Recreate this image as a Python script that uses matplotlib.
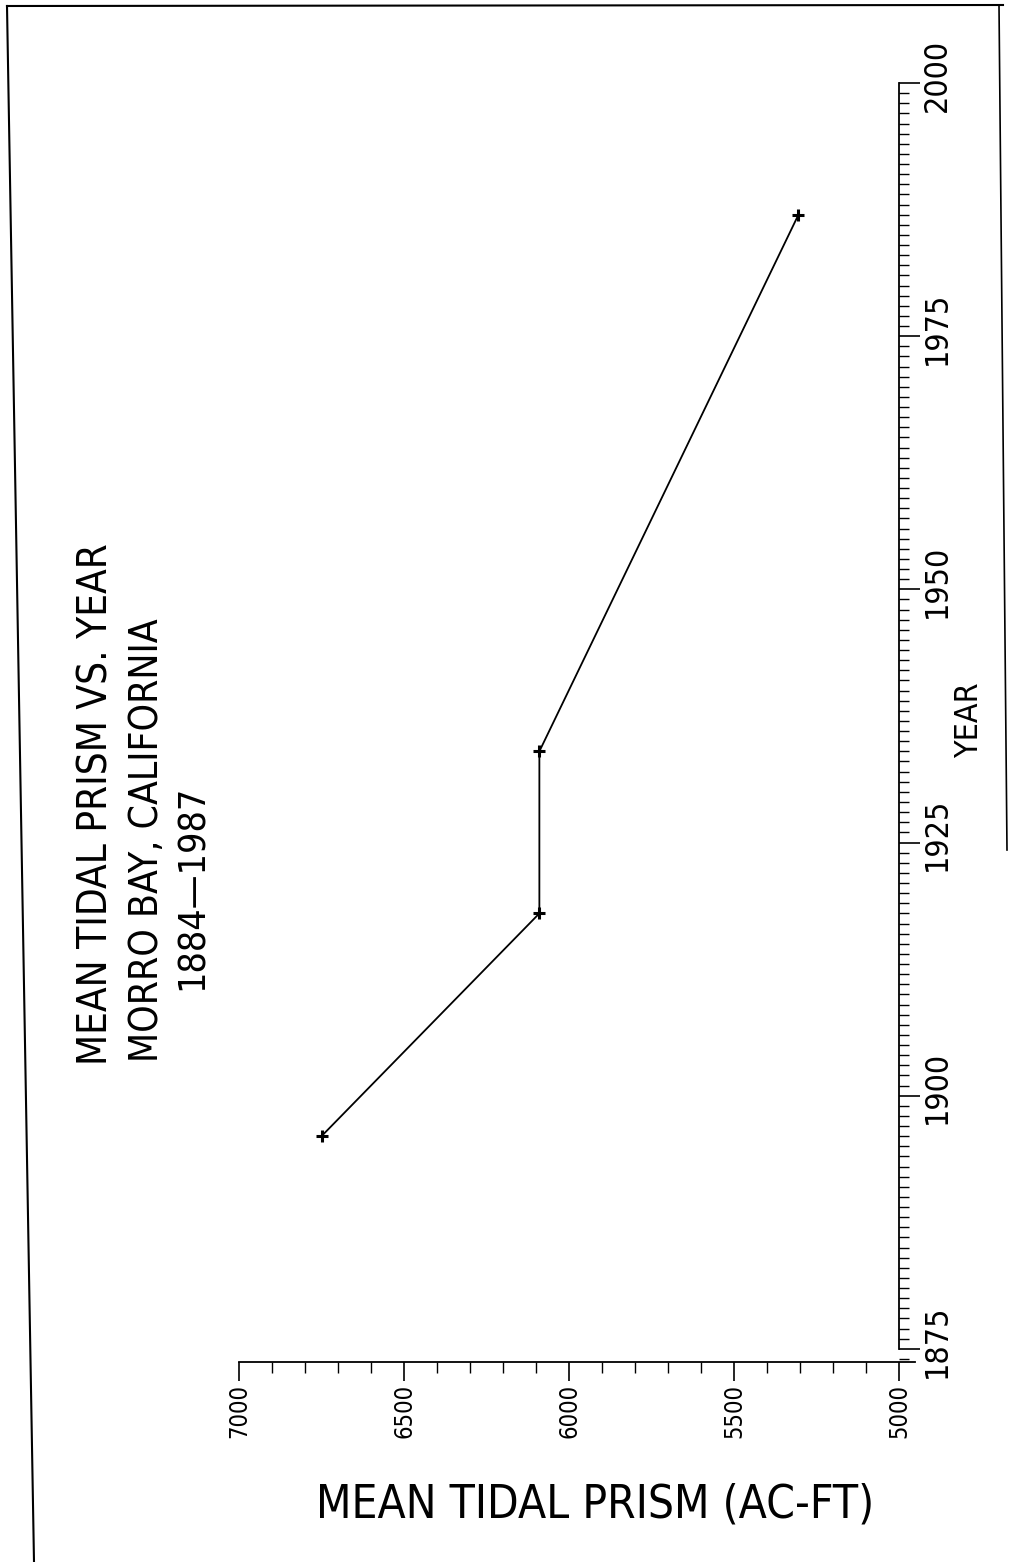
import matplotlib
matplotlib.use('Agg')
import matplotlib.pyplot as plt
import matplotlib.transforms as mtransforms
from matplotlib.ticker import MultipleLocator, FixedLocator
from matplotlib.lines import Line2D

# ---- data ----
years = [1896, 1918, 1934, 1987]
prism = [6750, 6090, 6090, 5305]
year_ticks = [1875, 1900, 1925, 1950, 1975, 2000]
prism_ticks = [5000, 5500, 6000, 6500, 7000]
title_lines = ["MEAN TIDAL PRISM VS. YEAR", "MORRO BAY, CALIFORNIA", "1884\u20141987"]
x_label = "YEAR"
y_label = "MEAN TIDAL PRISM (AC-FT)"

FONT = ['DejaVu Sans']
plt.rcParams['font.family'] = FONT
plt.rcParams['font.stretch'] = 'condensed'

W, H = 1011, 1562
fig = plt.figure(figsize=(W / 100, H / 100), dpi=100)


def fx(px):
    return px / W


def fy(py):
    return 1 - py / H


# axes: horizontal = prism (7000 left -> 5000 right), vertical = year
ax = fig.add_axes([fx(239), fy(1362), fx(915) - fx(239), fy(83) - fy(1362)])
ax.plot(prism, years, color='black', lw=1.3, marker='+', ms=8, mew=2.2)
ax.set_xlim(7000, 4952)
ax.set_ylim(1873.7, 2000)

for s in ['left', 'top']:
    ax.spines[s].set_visible(False)
ax.spines['right'].set_position(('data', 5000))
ax.spines['right'].set_bounds(1875, 2000)
ax.spines['right'].set_linewidth(1.3)
ax.spines['bottom'].set_linewidth(1.3)

# year axis on the right
ax.yaxis.tick_right()
ax.yaxis.set_major_locator(FixedLocator(year_ticks))
ax.yaxis.set_minor_locator(MultipleLocator(1))
ax.set_yticklabels([str(y) for y in year_ticks], rotation=90, va='center',
                   fontsize=23)
ax.tick_params(axis='y', which='major', direction='out', length=15, width=1.2,
               pad=1, right=True, left=False)
ax.tick_params(axis='y', which='minor', direction='out', length=7, width=1.0,
               right=True, left=False)
shift = mtransforms.ScaledTranslation(0, 8 / 100, fig.dpi_scale_trans)
for lab in ax.get_yticklabels():
    lab.set_transform(lab.get_transform() + shift)

# prism axis at the bottom
ax.xaxis.set_major_locator(FixedLocator(prism_ticks))
ax.xaxis.set_minor_locator(MultipleLocator(100))
ax.set_xticklabels([str(p) for p in prism_ticks], rotation=90, fontsize=17)
ax.tick_params(axis='x', which='major', direction='out', length=14, width=1.2,
               pad=2)
ax.tick_params(axis='x', which='minor', direction='out', length=8, width=1.0)

# axis labels
fig.text(fx(970), fy(720), x_label, rotation=90, ha='center', va='center',
         fontsize=23)
fig.text(fx(595), fy(1505), y_label, ha='center', va='center', fontsize=33)

# title (rotated)
fig.text(fx(97), fy(1065), title_lines[0], rotation=90, ha='center',
         va='bottom', fontsize=29)
fig.text(fx(147), fy(1062), title_lines[1], rotation=90, ha='center',
         va='bottom', fontsize=28)
fig.text(fx(193), fy(990), title_lines[2], rotation=90, ha='center',
         va='bottom', fontsize=27)

# page border of the scan
fig.add_artist(Line2D([fx(7), fx(1003)], [fy(6), fy(5)], color='black', lw=1.5))
fig.add_artist(Line2D([fx(7), fx(34)], [fy(6), fy(1562)], color='black', lw=1.5))
fig.add_artist(Line2D([fx(999), fx(1007)], [fy(5), fy(850)], color='black',
                      lw=1.2))

fig.savefig('out.png', dpi=100, facecolor='white')
